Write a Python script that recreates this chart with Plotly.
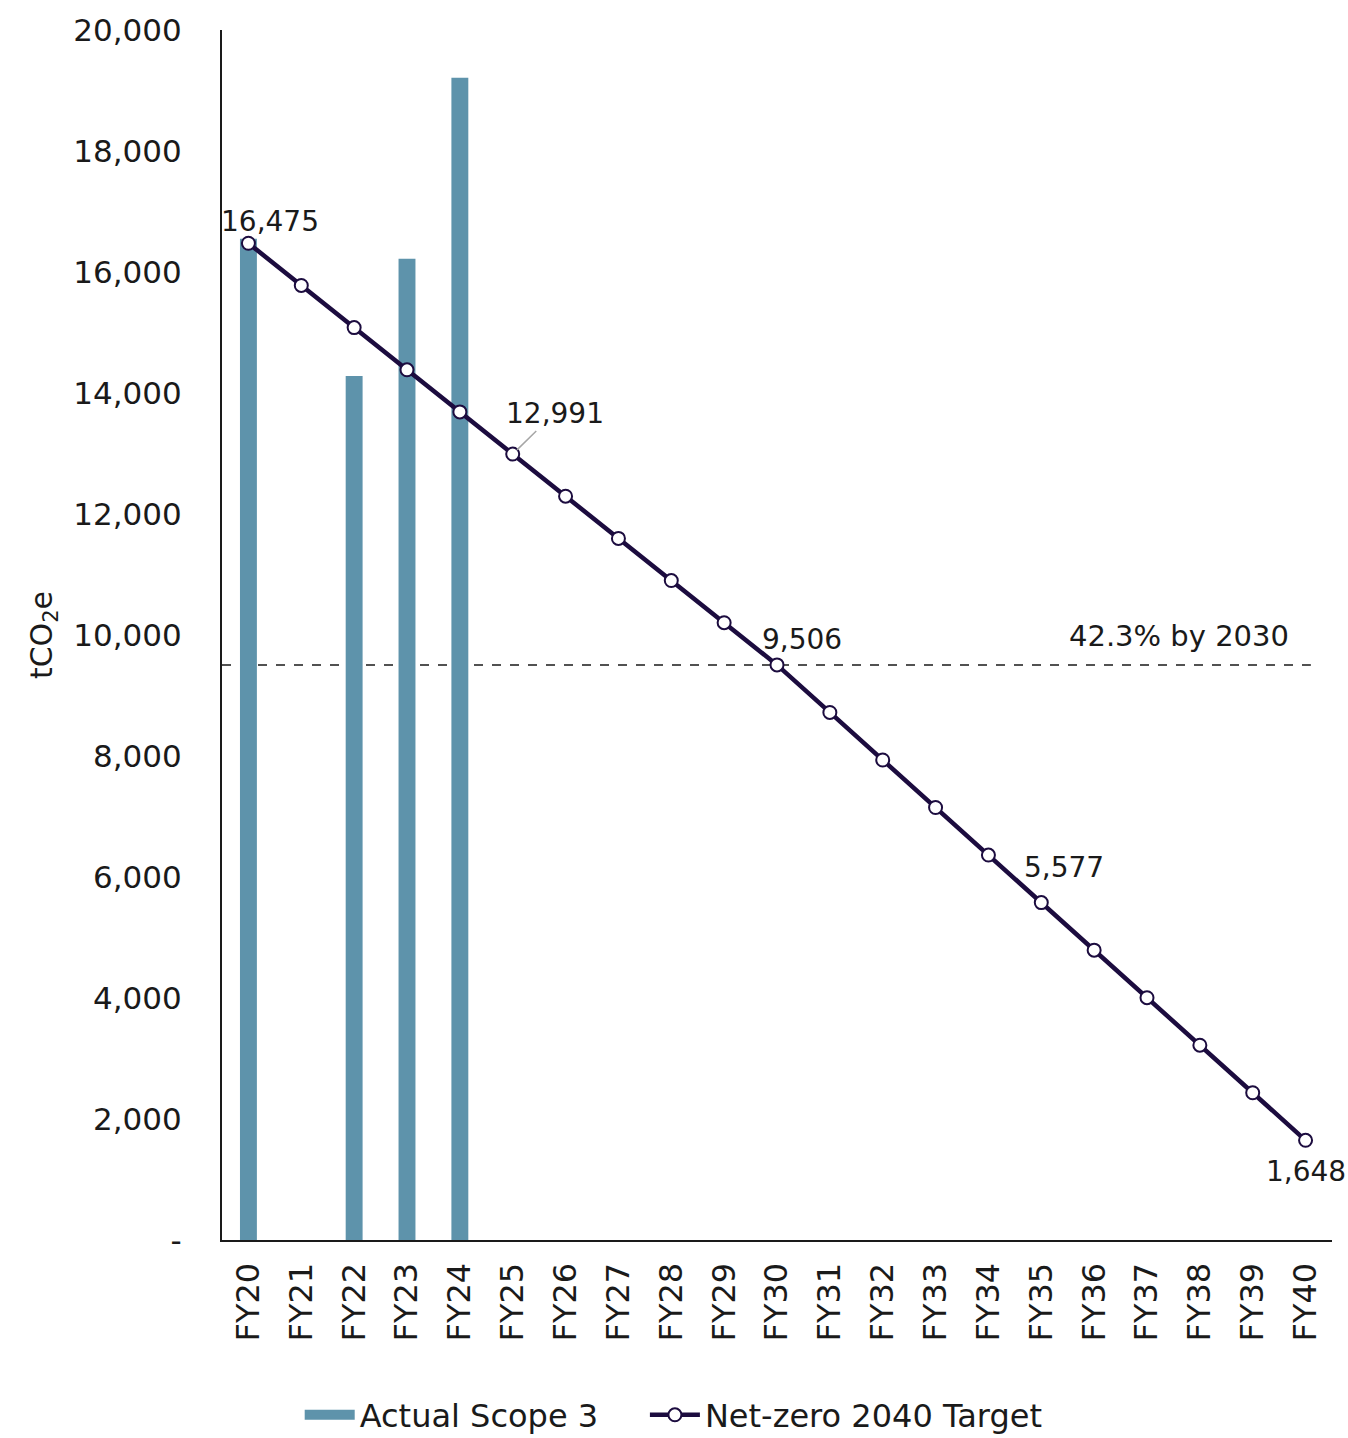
import plotly.graph_objects as go

categories = ["FY20", "FY21", "FY22", "FY23", "FY24", "FY25", "FY26", "FY27", "FY28", "FY29", "FY30",
              "FY31", "FY32", "FY33", "FY34", "FY35", "FY36", "FY37", "FY38", "FY39", "FY40"]
actual_scope3 = [16550, None, 14280, 16220, 19210, None, None, None, None, None, None,
                 None, None, None, None, None, None, None, None, None, None]
target_values = [16475, 15778, 15081, 14384, 13688, 12991, 12294, 11597, 10900, 10203, 9506,
                 8720, 7934, 7149, 6363, 5577, 4791, 4005, 3220, 2434, 1648]
y_tick_vals = [0, 2000, 4000, 6000, 8000, 10000, 12000, 14000, 16000, 18000, 20000]
y_tick_text = ["-", "2,000", "4,000", "6,000", "8,000", "10,000", "12,000", "14,000", "16,000", "18,000", "20,000"]
target_2030 = 9506
target_2030_label = "42.3% by 2030"

FONT = "DejaVu Sans"
TXT = "#1a1a1a"
BAR = "#5e93ab"
LINE = "#1c0c3f"

fig = go.Figure()
fig.add_trace(go.Bar(
    x=categories, y=actual_scope3, name="Actual Scope 3",
    marker=dict(color=BAR, line=dict(width=0)), width=0.32,
    showlegend=False, legendgroup="actual",
))
# legend entry for the bars, drawn as a wide swatch like the reference
fig.add_trace(go.Scatter(
    x=[None], y=[None], name="Actual Scope 3", mode="lines",
    line=dict(color=BAR, width=17), legendgroup="actual", hoverinfo="skip",
    legend="legend",
))
fig.add_trace(go.Scatter(
    x=categories, y=target_values, name="Net-zero 2040 Target",
    mode="lines+markers",
    line=dict(color=LINE, width=4.5),
    marker=dict(symbol="circle", size=13, color="white", line=dict(color=LINE, width=2)),
    legend="legend2",
))

fig.add_shape(type="line", xref="x", yref="y", x0=-0.5, x1=20.1, y0=target_2030, y1=target_2030,
              line=dict(color="#1a1a1a", width=1.5, dash="dash"), layer="below")

fig.add_annotation(x=17.6, y=target_2030, text=target_2030_label, showarrow=False,
                   yshift=29, font=dict(family=FONT, size=29, color=TXT))

label_specs = [(0, 22, 22), (10, 25, 25), (15, 23, 35), (20, 0, -31)]
for idx, dx, dy in label_specs:
    fig.add_annotation(x=categories[idx], y=target_values[idx], text=f"{target_values[idx]:,}",
                       showarrow=False, xshift=dx, yshift=dy,
                       font=dict(family=FONT, size=28, color=TXT))

fig.add_annotation(x=categories[5], y=target_values[5], text=f"{target_values[5]:,}",
                   showarrow=True, arrowhead=0, arrowcolor="#a6a6a6", arrowwidth=1.5,
                   ax=42, ay=-41, standoff=6,
                   font=dict(family=FONT, size=28, color=TXT))

legend_common = dict(orientation="h", xanchor="left", xref="paper",
                     y=0.016, yanchor="middle", yref="container",
                     font=dict(family=FONT, size=32, color=TXT), itemwidth=50)

fig.update_layout(
    width=1348, height=1438,
    margin=dict(l=222, r=16, t=30, b=198),
    plot_bgcolor="white", paper_bgcolor="white",
    font=dict(family=FONT, size=28, color=TXT),
    showlegend=True,
    legend=dict(x=0.07, **legend_common),
    legend2=dict(x=0.381, **legend_common),
    bargap=0.68,
)
fig.update_xaxes(
    type="category", range=[-0.5, 20.5], tickangle=-90, automargin=False,
    showline=True, linecolor="#1a1a1a", linewidth=2,
    showgrid=False, ticks="", ticklabelstandoff=8,
    tickfont=dict(family=FONT, size=32, color=TXT),
)
fig.update_yaxes(
    range=[0, 20000], tickvals=y_tick_vals, ticktext=y_tick_text, automargin=False,
    showline=True, linecolor="#1a1a1a", linewidth=2,
    showgrid=False, ticks="", ticklabelstandoff=32, zeroline=False,
    tickfont=dict(family=FONT, size=31, color=TXT),
    title=dict(text="tCO<sub>2</sub>e", font=dict(family=FONT, size=30, color=TXT), standoff=12),
)

fig.write_html("out.html")
